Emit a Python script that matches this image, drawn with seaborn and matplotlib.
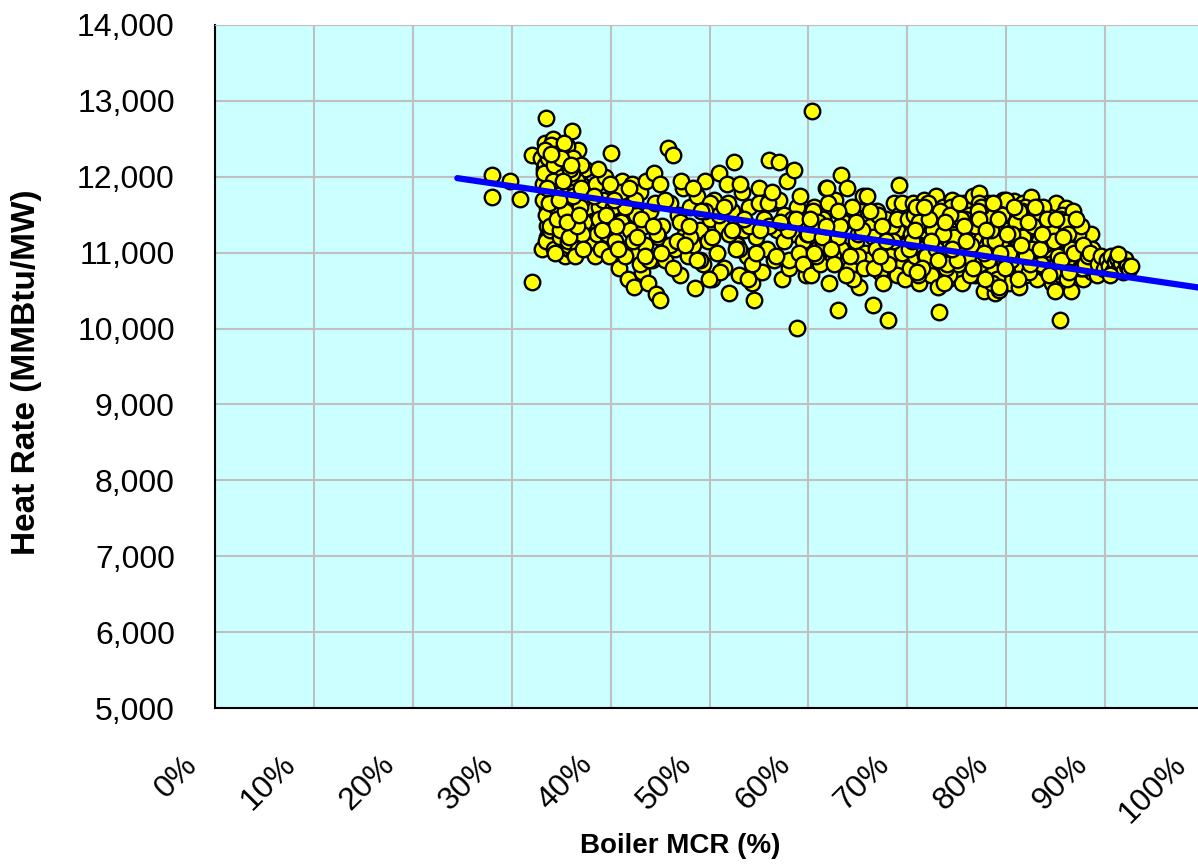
import numpy as np
import pandas as pd
import seaborn as sns
import matplotlib.pyplot as plt
import matplotlib.transforms as mtransforms
from matplotlib.ticker import FuncFormatter

# Boiler MCR (%) vs heat rate
# sparse low-load points
low_mcr = [28.0, 28.0, 29.8, 30.8, 32.1, 32.1]
low_hr = [12020, 11740, 11950, 11710, 12290, 10610]

# dense band around 33-38 %
band_mcr = [33.0, 33.2, 33.4, 33.5, 33.6, 33.8, 33.9, 34.0, 34.1, 34.2,
            34.3, 34.4, 34.5, 34.6, 34.7, 34.8, 34.9, 35.0, 35.1, 35.2,
            35.3, 35.4, 35.5, 35.6, 35.7, 35.8, 35.9, 36.0, 36.1, 36.2,
            36.3, 36.4, 36.5, 36.6, 36.7, 36.8, 36.9, 37.0, 37.2, 37.4,
            37.6, 37.8, 38.0, 38.2, 38.4, 38.6, 38.8, 33.1, 33.3, 33.7,
            34.0, 34.5, 35.0, 35.5, 36.0, 36.5, 37.0, 33.6, 34.2, 34.8,
            33.2, 33.4, 33.6, 33.8, 34.0, 34.2, 34.4, 34.6, 34.8, 35.0,
            35.2, 35.4, 35.6, 35.8, 36.0, 36.2, 36.4, 36.6, 36.8, 37.0,
            33.5, 33.9, 34.3, 34.7, 35.1, 35.5, 35.9, 36.3, 36.7, 37.1,
            33.7, 34.1, 34.5, 34.9, 35.3, 35.7, 36.1, 36.5, 36.9, 37.3]
band_hr = [12250, 11900, 12450, 12770, 11600, 12350, 11450, 12100, 11300, 12500,
           11750, 12200, 11200, 12000, 11550, 12380, 11350, 11900, 11100, 12150,
           11650, 10950, 12300, 11450, 11800, 11050, 12050, 11250, 12600, 11600,
           11000, 11900, 11350, 11150, 12350, 11700, 11050, 11500, 11300, 12100,
           11600, 11150, 11400, 11850, 10950, 11250, 11600, 11050, 12100, 11800,
           12420, 11500, 11300, 12200, 11700, 11000, 11900, 11200, 11400, 11650,
           11700, 12150, 11350, 12000, 11550, 11850, 12300, 11400, 12100, 11650,
           11950, 11250, 12400, 11500, 11800, 12250, 11100, 11950, 11400, 12150,
           11150, 11300, 11050, 11950, 11500, 11200, 11350, 11800, 11250, 11700,
           12300, 12000, 11650, 11200, 12450, 11100, 12050, 11550, 11800, 11400]

band_extra_mcr = [33.3, 33.5, 33.7, 33.9, 34.1, 34.3, 34.5, 34.7, 34.9, 35.1,
                  35.3, 35.5, 35.7, 35.9, 36.1, 36.3, 36.5, 36.7, 36.9, 37.1,
                  33.4, 33.8, 34.2, 34.6, 35.0, 35.4, 35.8, 36.2, 36.6, 37.0,
                  33.6, 34.0, 34.4, 34.8, 35.2, 35.6, 36.0, 36.4, 36.8, 37.2]
band_extra_hr = [12050, 11500, 12250, 11350, 11800, 12150, 11600, 11900, 11300, 12000,
                 11450, 11750, 11150, 12100, 11500, 11250, 11700, 11050, 11600, 11250,
                 12350, 11650, 11950, 11450, 12250, 11550, 11200, 11750, 11350, 11850,
                 11850, 12300, 11000, 11700, 11950, 11400, 12150, 10950, 11500, 11050]

# 38-60 %
mid1_mcr = [38.5, 38.8, 39.0, 39.2, 39.4, 39.6, 39.8, 40.0, 40.2, 40.4,
            40.6, 40.8, 41.0, 41.2, 41.4, 41.6, 41.8, 42.0, 42.2, 42.4,
            42.6, 42.8, 43.0, 43.2, 43.4, 43.6, 43.8, 44.0, 44.2, 44.4,
            44.6, 44.8, 45.0, 39.5, 40.5, 41.5, 42.5, 43.5, 44.5, 41.0,
            43.0, 45.0]
mid1_hr = [11900, 11450, 11050, 11700, 12000, 11250, 10950, 12310, 11600, 11150,
           11850, 10800, 11400, 11950, 11050, 11650, 10650, 11300, 11900, 10550,
           11500, 11000, 11800, 10750, 11350, 11950, 10600, 11550, 10900, 12050,
           10450, 11200, 10380, 11500, 11350, 10950, 11700, 11100, 11650, 11800,
           10850, 11900]

mid2_mcr = [45.2, 45.5, 45.8, 46.0, 46.3, 46.5, 46.8, 47.0, 47.3, 47.5,
            47.8, 48.0, 48.3, 48.5, 48.7, 49.0, 49.3, 49.5, 49.8, 50.0,
            50.3, 50.5, 50.8, 51.0, 51.3, 51.5, 51.8, 52.0, 52.3, 52.5,
            52.8, 53.0, 53.3, 53.5, 53.8, 54.0, 54.3, 54.5, 54.7, 55.0,
            55.3, 55.5, 55.8, 56.0, 56.3, 56.5, 56.8, 57.0, 57.3, 57.5,
            57.8, 58.0, 58.3, 58.5, 58.8, 59.0, 59.3, 59.5, 59.8, 46.0,
            47.0, 48.0, 49.0, 50.0, 51.0, 52.0, 53.0, 54.0, 55.0, 56.0,
            57.0, 58.0, 59.0, 58.8, 60.4]
mid2_hr = [11350, 10900, 12380, 11650, 12290, 11050, 11500, 10700, 11850, 11250,
           10950, 11600, 11100, 10530, 11750, 11300, 10850, 11950, 11150, 11450,
           10650, 11700, 11000, 12050, 11350, 10800, 11900, 10470, 11550, 12190,
           11100, 10700, 11800, 11300, 10950, 11600, 10600, 10375, 11200, 11850,
           10750, 11450, 11050, 12220, 11650, 10900, 11300, 12200, 10650, 11500,
           11950, 10800, 11250, 12090, 11600, 10950, 11400, 11150, 10700, 11100,
           11400, 11200, 10900, 11650, 11500, 11250, 11050, 11350, 11650, 11350,
           11700, 10900, 11000, 10007, 12867]

mid_extra_mcr = [38.3, 39.1, 39.9, 40.7, 41.5, 42.3, 43.1, 43.9, 44.7, 45.5,
                 46.3, 47.1, 47.9, 48.7, 49.5, 50.3, 51.1, 51.9, 52.7, 53.5,
                 54.3, 55.1, 55.9, 56.7, 57.5, 58.3, 59.1, 59.9, 38.7, 40.3,
                 41.9, 43.5, 45.1, 46.7, 48.3, 49.9, 51.5, 53.1, 54.7, 56.3,
                 57.9, 59.5, 42.7, 47.5, 52.3, 57.1, 44.3, 49.1, 53.9, 58.7]
mid_extra_hr = [11750, 11300, 11900, 11050, 11600, 11150, 11450, 10900, 11250, 11700,
                10800, 11950, 11350, 10900, 11550, 11200, 10750, 11650, 11050, 11450,
                10850, 11300, 11650, 10950, 11150, 11450, 11750, 11250, 12100, 11700,
                11850, 10950, 11000, 11150, 11850, 10650, 11600, 11900, 11000, 11800,
                11300, 10850, 11200, 11100, 11300, 11400, 11350, 11550, 10650, 11450]

# 60-70 %
mid3_mcr = [60.0, 60.3, 60.6, 60.9, 61.2, 61.5, 61.8, 62.1, 62.4, 62.7,
            63.0, 63.3, 63.3, 63.9, 64.2, 64.5, 64.8, 65.1, 65.4, 65.7,
            66.0, 66.3, 66.5, 66.9, 67.2, 67.5, 67.8, 68.0, 68.4, 68.7,
            69.0, 69.2, 69.6, 69.9, 60.5, 61.5, 62.5, 63.5, 64.5, 65.5,
            66.5, 67.5, 68.5, 69.5, 61.0, 63.0, 65.0, 67.0, 69.0, 61.9,
            60.2, 60.8, 61.4, 62.0, 62.6, 63.2, 63.8, 64.4, 65.0, 65.6,
            66.2, 66.8, 67.4, 68.0, 68.6, 69.2, 69.8, 60.6, 61.8, 63.0,
            64.2, 65.4, 66.6, 67.8, 69.0, 62.3, 64.8, 67.2, 69.5, 65.9]
mid3_hr = [11250, 10700, 11600, 11050, 10850, 11450, 11850, 10600, 11300, 11700,
           10244, 11050, 12023, 11852, 10800, 11500, 11150, 10550, 11650, 11000,
           10900, 11350, 10310, 11550, 10750, 11200, 11450, 10112, 10950, 11650,
           11300, 11890, 10850, 11100, 11550, 11100, 10950, 11400, 10650, 11750,
           11200, 10600, 11350, 11000, 11400, 11200, 10950, 11500, 10700, 11852,
           11450, 10950, 11200, 11650, 10850, 11350, 10700, 11600, 11250, 10800,
           11550, 11050, 11350, 10850, 11150, 11500, 10650, 11000, 11350, 11550,
           10950, 11300, 10800, 11150, 11450, 11050, 11400, 10950, 11650, 11750]

# dense cluster 70-89 %
high_mcr = [70.1, 70.3, 70.5, 70.6, 70.8, 71.0, 71.2, 71.3, 71.5, 71.7,
            71.9, 72.0, 72.2, 72.4, 72.6, 72.7, 72.9, 73.1, 73.3, 73.4,
            73.6, 73.8, 74.0, 74.1, 74.3, 74.5, 74.7, 74.8, 75.0, 75.2,
            75.4, 75.5, 75.7, 75.9, 76.1, 76.2, 76.4, 76.6, 76.8, 76.9,
            77.1, 77.3, 77.5, 77.6, 77.8, 78.0, 78.2, 78.3, 78.5, 78.7,
            78.9, 79.0, 79.2, 79.4, 79.6, 79.7, 79.9, 80.1, 80.3, 80.4,
            80.6, 80.8, 81.0, 81.1, 81.3, 81.5, 81.7, 81.8, 82.0, 82.2,
            82.4, 82.5, 82.7, 82.9, 83.1, 83.2, 83.4, 83.6, 83.8, 83.9,
            84.1, 84.3, 84.5, 84.6, 84.8, 85.0, 85.2, 85.3, 85.5, 85.7,
            85.9, 86.0, 86.2, 86.4, 86.6, 86.7, 86.9, 87.1, 87.3, 87.4,
            87.6, 87.8, 88.0, 88.1, 88.3, 88.5, 88.7, 88.8, 89.0, 89.2,
            73.2, 85.4, 79.3]
high_hr = [11450, 10800, 11200, 11650, 10950, 11350, 10600, 11550, 11050, 11700,
           10850, 11250, 11600, 10700, 11400, 11000, 11750, 10550, 11300, 11150,
           11600, 10900, 11450, 10650, 11250, 11700, 10980, 11400, 10750, 11550,
           11100, 10600, 11650, 11300, 10850, 11500, 11000, 11750, 10700, 11350,
           11200, 11790, 10900, 11550, 10500, 11250, 11650, 10800, 11400, 11050,
           10470, 11600, 11150, 10750, 11450, 11700, 10950, 11300, 10600, 11550,
           11100, 11680, 10850, 11400, 10550, 11250, 11650, 11000, 10700, 11500,
           11200, 11730, 10900, 11350, 10650, 11600, 11050, 11450, 10800, 11250,
           11550, 10950, 11400, 10600, 11150, 11650, 10850, 11300, 10700, 11500,
           11050, 11590, 10900, 11350, 10500, 11200, 11450, 10750, 11100, 10950,
           11300, 10650, 11150, 10850, 11050, 10950, 10750, 11000, 10850, 10700,
           10217, 10112, 10507]

core_mcr = [72.5, 73.8, 74.6, 75.3, 76.0, 76.7, 77.4, 78.1, 78.8, 79.5,
            80.2, 80.9, 81.6, 82.3, 83.0, 83.7, 84.4, 85.1, 85.8, 86.5,
            87.2, 87.9, 72.9, 74.2, 75.8, 77.0, 78.4, 79.8, 81.2, 82.6,
            84.0, 85.4, 86.8, 88.2, 73.5, 76.4, 79.1, 81.9, 84.7, 87.5,
            70.2, 70.7, 71.1, 71.6, 72.1, 72.5, 73.0, 73.5, 73.9, 74.4,
            74.9, 75.3, 75.8, 76.3, 76.7, 77.2, 77.7, 78.1, 78.6, 79.1,
            79.5, 80.0, 80.5, 80.9, 81.4, 81.9, 82.3, 82.8, 83.3, 83.7,
            84.2, 84.7, 85.1, 85.6, 86.1, 86.5, 87.0, 87.5, 87.9, 88.4,
            70.4, 71.4, 72.3, 73.2, 74.2, 75.1, 76.0, 77.0, 77.9, 78.8,
            79.8, 80.7, 81.6, 82.6, 83.5, 84.4, 85.4, 86.3, 87.2, 88.2,
            70.9, 72.8, 74.6, 76.5, 78.4, 80.2, 82.1, 84.0, 85.8, 87.7,
            71.8, 73.7, 75.6, 77.4, 79.3, 81.2, 83.0, 84.9, 86.8, 88.6]
core_hr = [11050, 11300, 10900, 11150, 11400, 10850, 11100, 11350, 10750, 11200,
           11000, 11300, 10800, 11150, 11050, 10950, 11200, 10850, 11100, 10900,
           11000, 10800, 11500, 10700, 11050, 10950, 11250, 10900, 11150, 10850,
           11300, 11000, 10850, 10900, 10850, 11250, 10650, 11450, 10750, 11150,
           11050, 11500, 10700, 11300, 11650, 10900, 11400, 11100, 10800, 11600,
           11300, 11000, 11450, 10700, 11200, 11650, 11000, 11500, 10600, 11250,
           11100, 11700, 10900, 11350, 11050, 11600, 10750, 11400, 11150, 11600,
           10750, 11300, 11000, 11500, 10650, 11100, 11350, 10800, 11200, 10900,
           11250, 11450, 11350, 10950, 11100, 10850, 11250, 11450, 10650, 11300,
           11450, 11000, 11550, 11050, 10850, 11200, 11450, 11000, 11250, 11100,
           11600, 11150, 11450, 10950, 11150, 11500, 11300, 11050, 11300, 10800,
           10950, 10600, 11250, 10850, 10550, 10650, 11500, 10500, 11550, 11250]

high_extra_mcr = [70.5, 71.2, 71.9, 72.6, 73.3, 74.0, 74.7, 75.4, 76.1, 76.8,
                  77.5, 78.2, 78.9, 79.6, 80.3, 81.0, 81.7, 82.4, 83.1, 83.8,
                  84.5, 85.2, 85.9, 86.6, 87.3, 88.0, 88.7,
                  70.8, 71.5, 72.2, 72.9, 73.6, 74.3, 75.0, 75.7, 76.4, 77.1,
                  77.8, 78.5, 79.2, 79.9, 80.6, 81.3, 82.0, 82.7, 83.4, 84.1,
                  84.8, 85.5, 86.2, 86.9, 87.6, 88.3,
                  71.0, 71.7, 72.4, 73.1, 73.8, 74.5, 75.2, 75.9, 76.6, 77.3,
                  78.0, 78.7, 79.4, 80.1, 80.8, 81.5, 82.2, 82.9, 83.6, 84.3,
                  85.0, 85.7, 86.4, 87.1, 87.8, 88.5]
high_extra_hr = [11150, 11400, 10950, 11300, 11550, 10850, 11200, 11450, 10950, 11350,
                 11600, 10900, 11150, 11500, 11000, 11400, 11200, 10850, 11500, 11100,
                 11300, 10950, 11400, 11050, 11250, 10850, 11050,
                 11300, 10800, 11450, 11050, 11250, 11500, 10900, 11350, 11100, 11550,
                 11000, 11300, 11450, 10800, 11250, 11550, 10950, 11350, 11050, 11450,
                 11150, 10900, 11250, 11000, 11350, 10950,
                 10750, 11600, 11150, 10900, 11400, 11050, 11650, 11150, 10800, 11450,
                 11300, 11650, 11000, 11250, 11600, 11100, 11400, 11600, 11250, 10700,
                 11450, 11200, 10750, 11450, 11100, 11000]

# tail beyond 89 %
tail_mcr = [89.3, 89.6, 89.9, 90.2, 90.4, 90.6, 90.8, 91.0, 91.2, 91.4,
            91.6, 91.8, 92.0, 92.2, 92.4, 92.6, 90.5, 91.3]
tail_hr = [10850, 10950, 10780, 10900, 10820, 10960, 10760, 10880, 10930, 10800,
           10870, 10750, 10920, 10830, 10780, 10820, 10700, 10980]

# linear trend line end points
trend_mcr = [24.5, 100.0]
trend_hr = [11982, 10530]

x_ticks = list(range(0, 101, 10))
y_ticks = list(range(5000, 14001, 1000))

df = pd.DataFrame({
    "mcr": low_mcr + band_mcr + band_extra_mcr + mid1_mcr + mid2_mcr + mid_extra_mcr
           + mid3_mcr + high_mcr + core_mcr + high_extra_mcr + tail_mcr,
    "hr": low_hr + band_hr + band_extra_hr + mid1_hr + mid2_hr + mid_extra_hr
          + mid3_hr + high_hr + core_hr + high_extra_hr + tail_hr,
})
trend = pd.DataFrame({"mcr": trend_mcr, "hr": trend_hr})

sns.set_style("white")
plt.rcParams['font.family'] = ['Liberation Sans', 'DejaVu Sans']
plt.rcParams['text.color'] = 'black'
plt.rcParams['axes.labelcolor'] = 'black'
plt.rcParams['xtick.color'] = 'black'
plt.rcParams['ytick.color'] = 'black'

fig = plt.figure(figsize=(11.98, 8.65), dpi=100)
ax = fig.add_axes([0.1795, 0.1815, 0.8255, 0.7896])
ax.set_facecolor('#ccffff')

sns.scatterplot(data=df, x="mcr", y="hr", ax=ax, marker='o', s=125,
                color='#ffff00', edgecolor='black', linewidth=1.7, zorder=3)
sns.lineplot(data=trend, x="mcr", y="hr", ax=ax, color='#0000ff',
             linewidth=4.5, zorder=4)

ax.set_xlim(0, 100)
ax.set_ylim(5000, 14000)
ax.set_xticks(x_ticks)
ax.set_yticks(y_ticks)
ax.xaxis.set_major_formatter(FuncFormatter(lambda v, p: f"{int(v)}%"))
ax.yaxis.set_major_formatter(FuncFormatter(lambda v, p: f"{int(v):,}"))
ax.grid(True, color='#c0c0c0', linewidth=1.5, zorder=0)
ax.set_axisbelow(True)

ax.tick_params(axis='both', length=0, labelsize=23, colors='black')
ax.tick_params(axis='y', pad=29)
ax.tick_params(axis='x', pad=30)
shift = mtransforms.ScaledTranslation(-0.33, 0, fig.dpi_scale_trans)
for lbl in ax.get_xticklabels():
    lbl.set_rotation(45)
    lbl.set_ha('right')
    lbl.set_rotation_mode('anchor')
    lbl.set_transform(lbl.get_transform() + shift)

for side in ['left', 'bottom']:
    ax.spines[side].set_color('black')
    ax.spines[side].set_linewidth(1.5)
ax.spines['top'].set_color('#c0c0c0')
ax.spines['right'].set_visible(False)

ax.set_xlabel('Boiler MCR (%)', fontsize=20, fontweight='bold', color='black')
ax.set_ylabel('Heat Rate (MMBtu/MW)', fontsize=24, fontweight='bold', color='black')
ax.xaxis.set_label_coords(0.47, -0.183)
ax.yaxis.set_label_coords(-0.175, 0.492)

fig.savefig('out.png', dpi=100)
